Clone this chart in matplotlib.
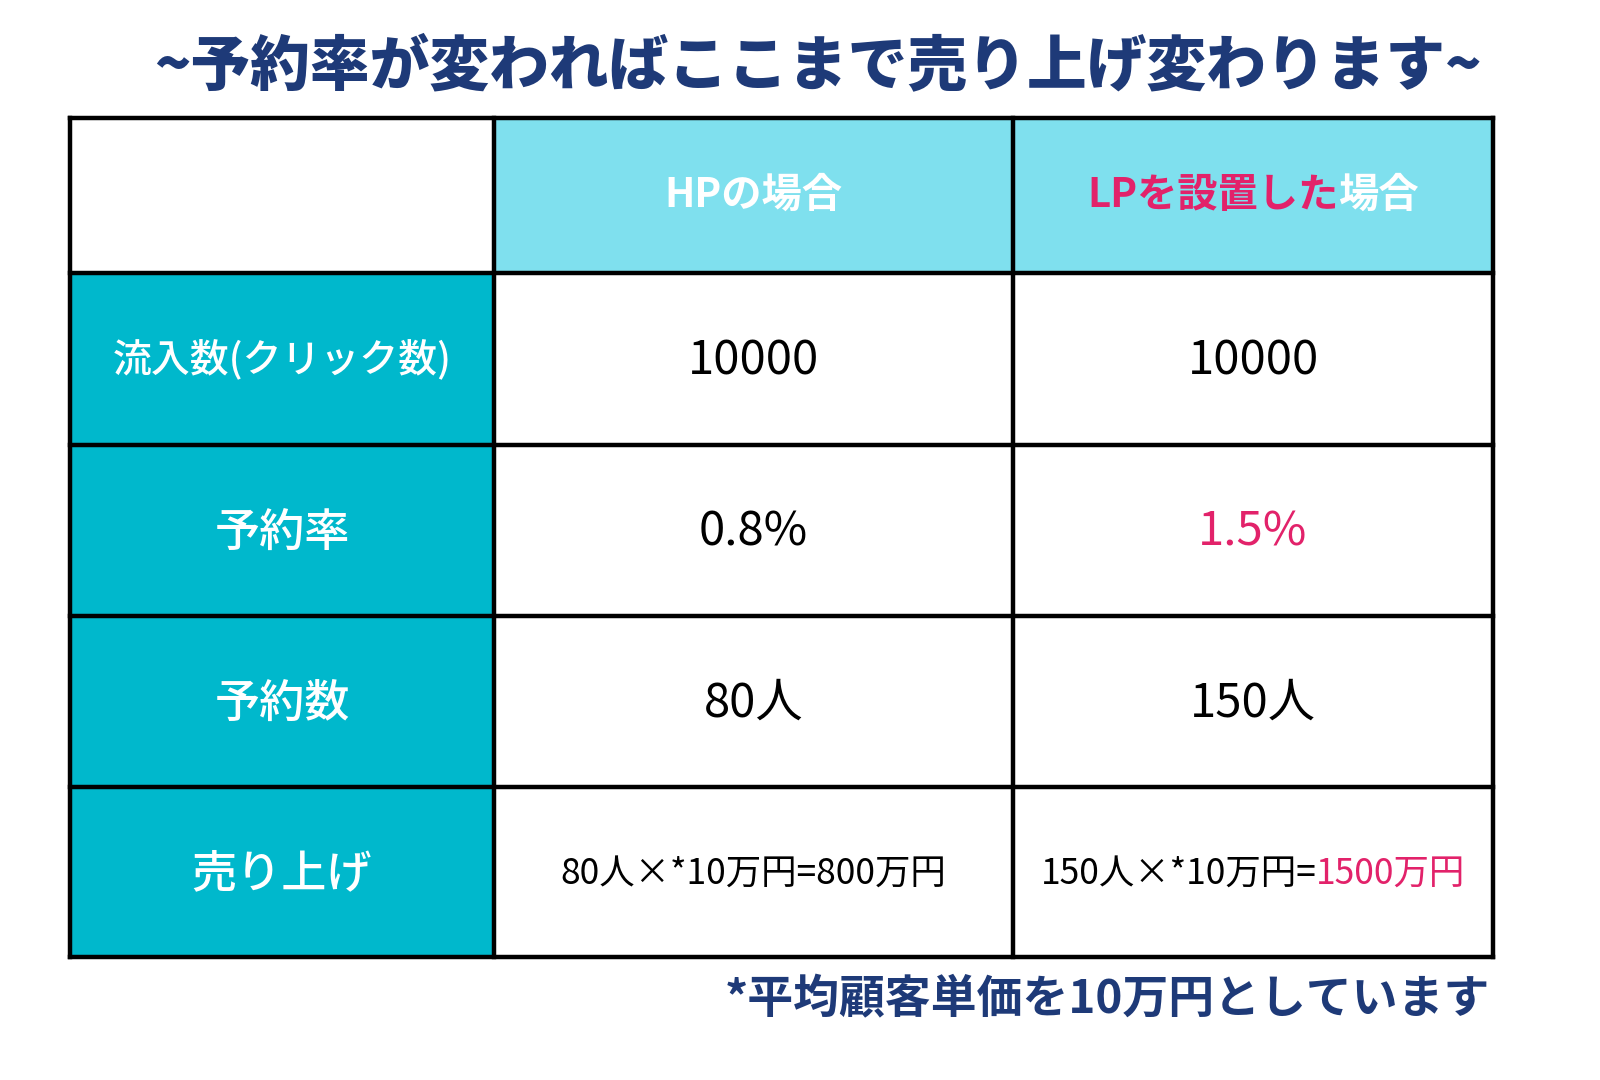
import matplotlib.pyplot as plt
from matplotlib.patches import Rectangle

plt.rcParams['font.family'] = ['Noto Sans CJK JP', 'DejaVu Sans']

# データ
title = '~予約率が変わればここまで売り上げ変わります~'
note = '*平均顧客単価を10万円としています'
row_labels = ['流入数(クリック数)', '予約率', '予約数', '売り上げ']
hp_values = ['10000', '0.8%', '80人', '80人×*10万円=800万円']
lp_values = ['10000', '1.5%', '150人', '150人×*10万円=']
lp_extra = ['', '', '', '1500万円']
lp_highlight = [False, True, False, False]

navy = '#1e3a78'
pink = '#e2226a'
teal = '#00b8cc'
light = '#7fe0ee'

fig = plt.figure(figsize=(16, 10.8), dpi=100)
ax = fig.add_axes([0, 0, 1, 1])
ax.set_xlim(0, 1600)
ax.set_ylim(1080, 0)
ax.axis('off')

# グリッド位置
xs = [70, 494, 1013, 1493]
ys = [118, 273, 445, 616, 787, 957]

# 背景色
ax.add_patch(Rectangle((xs[1], ys[0]), xs[3] - xs[1], ys[1] - ys[0], color=light, zorder=1))
ax.add_patch(Rectangle((xs[0], ys[1]), xs[1] - xs[0], ys[5] - ys[1], color=teal, zorder=1))

# 罫線
for x in xs:
    ax.plot([x, x], [ys[0], ys[-1]], color='black', lw=3.2, zorder=3, solid_capstyle='projecting')
for y in ys:
    ax.plot([xs[0], xs[-1]], [y, y], color='black', lw=3.2, zorder=3, solid_capstyle='projecting')

# タイトル
ax.text(818, 66, title, ha='center', va='center', fontsize=43, fontweight='heavy', color=navy)

# ヘッダー
hx1 = (xs[1] + xs[2]) / 2
hx2 = (xs[2] + xs[3]) / 2
hy = (ys[0] + ys[1]) / 2
ax.text(hx1, hy, 'HPの場合', ha='center', va='center', fontsize=29, fontweight='bold', color='white')
t1 = ax.text(0, hy, 'LPを設置した', ha='left', va='center', fontsize=29, fontweight='bold', color=pink)
t2 = ax.text(0, hy, '場合', ha='left', va='center', fontsize=29, fontweight='bold', color='white')
fig.canvas.draw()
w1 = t1.get_window_extent().width
w2 = t2.get_window_extent().width
t1.set_x(hx2 - (w1 + w2) / 2)
t2.set_x(hx2 - (w1 + w2) / 2 + w1)

# 行
for i, lab in enumerate(row_labels):
    cy = (ys[i + 1] + ys[i + 2]) / 2 + 2
    fs = 28 if i == 0 else 32.5
    ax.text((xs[0] + xs[1]) / 2, cy, lab, ha='center', va='center', fontsize=fs,
            fontweight='medium', color='white')
    vfs = 25.5 if i == 3 else 34
    ax.text(hx1, cy, hp_values[i], ha='center', va='center', fontsize=vfs, color='black')
    col = pink if lp_highlight[i] else 'black'
    if lp_extra[i]:
        a = ax.text(0, cy, lp_values[i], ha='left', va='center', fontsize=vfs, color=col)
        b = ax.text(0, cy, lp_extra[i], ha='left', va='center', fontsize=vfs, color=pink)
        fig.canvas.draw()
        wa = a.get_window_extent().width
        wb = b.get_window_extent().width
        x0 = hx2 - (wa + wb) / 2
        a.set_x(x0)
        b.set_x(x0 + wa)
    else:
        ax.text(hx2, cy, lp_values[i], ha='center', va='center', fontsize=vfs, color=col)

# 注記
ax.text(1490, 1000, note, ha='right', va='center', fontsize=33, fontweight='bold', color=navy)

fig.savefig('out.png', dpi=100, facecolor='white')
